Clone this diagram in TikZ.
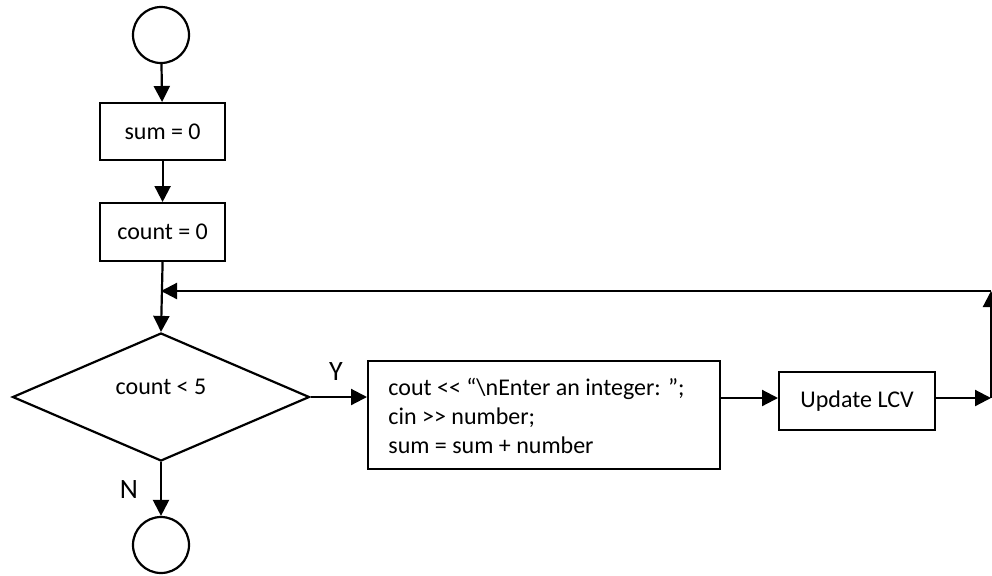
\documentclass[tikz,border=0pt]{standalone}
\usepackage{fontspec}
\setmainfont{Carlito}
\usetikzlibrary{shapes.geometric,arrows.meta}
\begin{document}
\begin{tikzpicture}[x=0.5pt,y=-0.5pt,
  every node/.style={font=\fontsize{12}{14.5}\selectfont},
  arr/.style={line width=1.1pt,-{Triangle[length=8pt,width=8pt]}},
  term/.style={draw,line width=1.1pt,circle,minimum size=28pt,inner sep=0pt},
  proc/.style={draw,line width=1.1pt,rectangle,inner sep=0pt,anchor=north west},
  decis/.style={draw,line width=1.1pt,diamond,inner sep=0pt},
  lbl/.style={inner sep=0pt},
  yn/.style={inner sep=0pt,font=\fontsize{14}{16}\selectfont}]
\useasboundingbox (0,0) rectangle (992,575);
% terminals
\node[term] (start) at (161,35) {};
\node[term] (stop) at (161,545) {};
% process boxes
\node[proc,minimum width=62.5pt,minimum height=28.5pt] (sum) at (99,102) {};
\node[lbl] at (sum.center) {sum = 0};
\node[proc,minimum width=62.5pt,minimum height=29pt] (count) at (99,202) {};
\node[lbl] at (count.center) {count = 0};
% decision
\node[decis,minimum width=148.5pt,minimum height=64pt] (dec) at (161,397) {};
\node[lbl] (dectext) at (161,387) {count < 5};
% body
\node[proc,minimum width=176pt,minimum height=54pt] (body) at (367,360) {};
\node[lbl,anchor=west,align=left] (bodytext) at (388,416)
  {cout <\kern0pt< “\textbackslash nEnter an integer: ”;\\cin >\kern0pt> number;\\sum = sum + number};
\node[proc,minimum width=78pt,minimum height=29pt] (upd) at (778,371) {};
\node[lbl] at (upd.center) {Update LCV};
% labels
\node[yn] (ylab) at (336,372) {Y};
\node[yn] (nlab) at (129,490) {N};
% coordinates
\coordinate (join) at (161,291);
\coordinate (r1) at (991,398);
\coordinate (r2) at (991,291);
% connectors
\draw[arr] (start) -- (sum);
\draw[arr] (sum) -- (count);
\draw[arr] (count.south) -- (dec.north);
\draw[arr] (dec.east) -- (dec.east -| body.west);
\draw[arr] (body.east |- r1) -- (upd.west |- r1);
\draw[arr] (upd.east |- r1) -- (r1);
\draw[arr] (r1) -- (r2);
\draw[arr] (r2) -- (join);
\draw[arr] (dec.south) -- (stop.north);
\end{tikzpicture}
\end{document}
